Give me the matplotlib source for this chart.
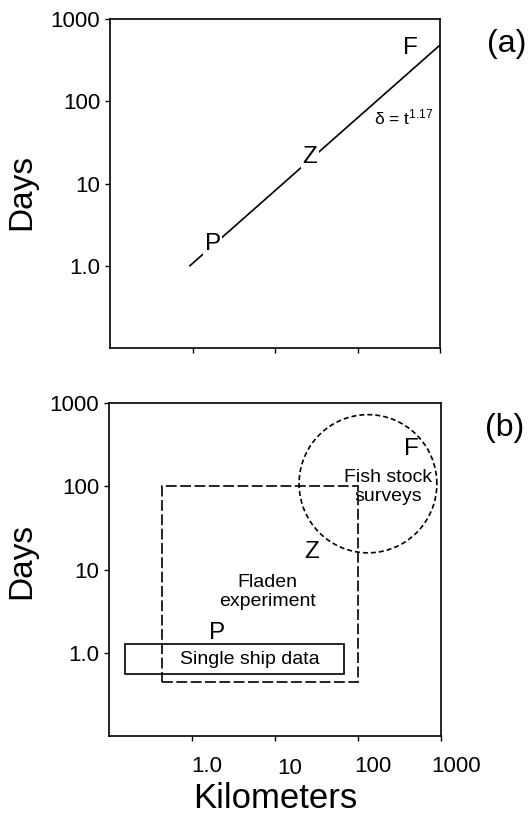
import numpy as np
import matplotlib
matplotlib.use("Agg")
import matplotlib.pyplot as plt
from matplotlib.patches import Rectangle
from matplotlib.transforms import ScaledTranslation, blended_transform_factory

plt.rcParams['font.family'] = ['Liberation Sans', 'DejaVu Sans']
plt.rcParams['mathtext.fontset'] = 'custom'
plt.rcParams['mathtext.rm'] = 'Liberation Sans'
plt.rcParams['mathtext.it'] = 'Liberation Sans:italic'

# axis ticks (km on x, days on y)
tick_values = [1, 10, 100, 1000]
tick_labels = ["1.0", "10", "100", "1000"]
x_limits = (0.1, 1000)
y_limits = (0.1, 1000)

# panel (a): scaling line delta = t^1.17
line_km = [0.93, 1000]
line_days = [1.0, 482]
# plankton, zooplankton, fish markers on the line
group_names = ["P", "Z", "F"]
group_km_a = [1.76, 26.6, 443]
group_days_a = [1.84, 20.9, 439]
eq_km, eq_days = 363, 64

# panel (b): sampling domains
ship_km = (0.157, 67)       # single ship data, x extent
ship_days = (0.563, 1.26)   # single ship data, y extent
fladen_km = (0.44, 100)
fladen_days = (0.44, 100)
survey_center_log = (2.12, 2.03)   # log10 km, log10 days
survey_radius_log = 0.83           # decades
group_km_b = [2.0, 27.6, 443]
group_days_b = [1.75, 16.3, 277]
ship_label_pos = (5.0, 0.83)
fladen_label_pos = (8.2, 5.35)
survey_label_pos = (230, 98)

fig = plt.figure(figsize=(5.3, 8.15), dpi=100)
ax_a = fig.add_axes([110/530, 1-348/815, 330/530, 329/815])
ax_b = fig.add_axes([109/530, 1-736/815, 332/530, 333/815])

for ax in (ax_a, ax_b):
    ax.set_xscale('log')
    ax.set_yscale('log')
    ax.set_xlim(*x_limits)
    ax.set_ylim(*y_limits)
    ax.set_xticks(tick_values)
    ax.set_yticks(tick_values)
    ax.set_yticklabels(tick_labels)
    ax.set_xticklabels([])
    ax.minorticks_off()
    ax.tick_params(direction='out', length=3.5, width=1.0, labelsize=16, pad=3.5)
    for s in ax.spines.values():
        s.set_linewidth(1.2)

# y-axis titles
fig.text(22/530, 1-192/815, "Days", rotation=90, fontsize=24, ha='center', va='center')
fig.text(22/530, 1-561/815, "Days", rotation=90, fontsize=24, ha='center', va='center')

# panel (a)
ax_a.plot(line_km, line_days, color='black', lw=1.2, zorder=1)
for name, xk, yd in zip(group_names, group_km_a, group_days_a):
    ax_a.text(xk, yd, name, fontsize=17.5, ha='center', va='center', zorder=3,
              bbox=dict(facecolor='white', edgecolor='none', pad=1.0))
ax_a.text(eq_km, eq_days, r"δ = t$^{1.17}$", fontsize=12.5, ha='center', va='center')
fig.text(507/530, 1-44/815, "(a)", fontsize=23, ha='center', va='center')

# panel (b)
ax_b.add_patch(Rectangle((ship_km[0], ship_days[0]), ship_km[1]-ship_km[0],
                         ship_days[1]-ship_days[0], fill=False, ec='black', lw=1.2))
ax_b.add_patch(Rectangle((fladen_km[0], fladen_days[0]), fladen_km[1]-fladen_km[0],
                         fladen_days[1]-fladen_days[0], fill=False, ec='black', lw=1.2,
                         linestyle=(0, (6.5, 2.1))))
theta = np.linspace(0, 2*np.pi, 400)
circ_x = 10**(survey_center_log[0] + survey_radius_log*np.cos(theta))
circ_y = 10**(survey_center_log[1] + survey_radius_log*np.sin(theta))
ax_b.plot(circ_x, circ_y, color='black', lw=1.2, linestyle=(0, (3.0, 1.8)))

for name, xk, yd in zip(group_names, group_km_b, group_days_b):
    ax_b.text(xk, yd, name, fontsize=17.5, ha='center', va='center')
ax_b.text(*ship_label_pos, "Single ship data", fontsize=14, ha='center', va='center')
ax_b.text(*fladen_label_pos, "Fladen\nexperiment", fontsize=14, ha='center', va='center',
          linespacing=1.1)
ax_b.text(*survey_label_pos, "Fish stock\nsurveys", fontsize=14, ha='center', va='center',
          linespacing=1.15)
fig.text(505/530, 1-428/815, "(b)", fontsize=23, ha='center', va='center')

# x tick labels, set slightly to the right of their ticks
trans = blended_transform_factory(ax_b.transData, ax_b.transAxes)
for val, lab in zip(tick_values, tick_labels):
    dy = -3/100 if lab == "10" else 0
    t = trans + ScaledTranslation(15/100, dy, fig.dpi_scale_trans)
    ax_b.text(val, -30/333, lab, transform=t, fontsize=16, ha='center', va='center',
              clip_on=False)

fig.text(275/530, 1-798/815, "Kilometers", fontsize=25, ha='center', va='center')

fig.savefig("out.png", dpi=100)
